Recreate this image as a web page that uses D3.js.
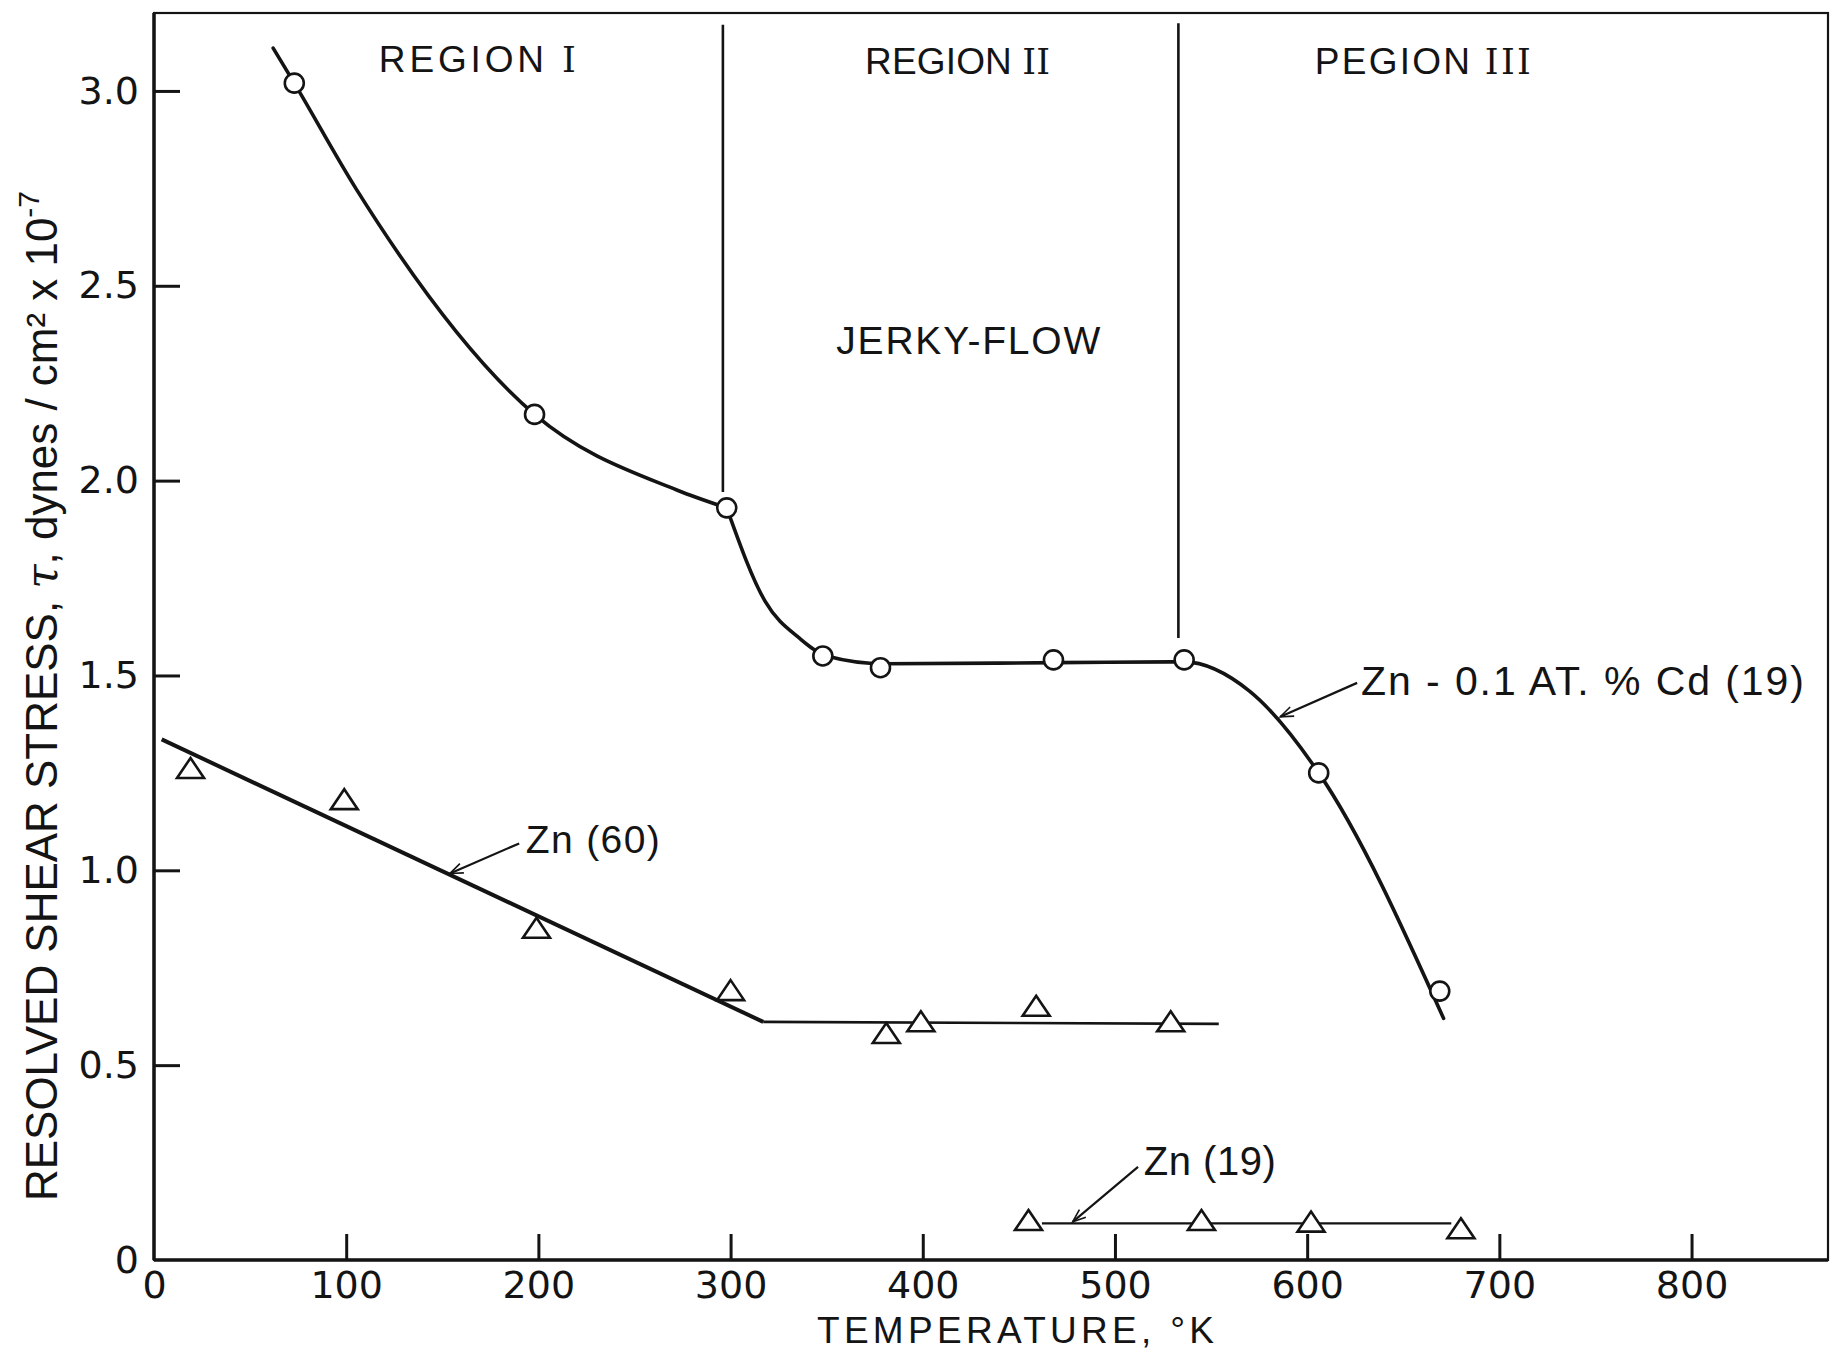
<!DOCTYPE html>
<html>
<head>
<meta charset="utf-8">
<script src="https://cdn.jsdelivr.net/npm/d3@7"></script>
<style>
body { margin: 0; background: #fff; }
svg { display: block; }
text { font-family: "Liberation Sans Narrow", "Liberation Sans", sans-serif; fill: #141414; }
.tick text { font-family: "DejaVu Sans", sans-serif; }
</style>
</head>
<body>
<div id="chart"></div>
<script>
// Zn-0.1 at.% Cd (19): measured points (circles)
const cdTemps = [73, 198, 298, 348, 378, 468, 536, 606, 669];
const cdStress = [3.02, 2.17, 1.93, 1.55, 1.52, 1.54, 1.54, 1.25, 0.69];
// hand-drawn fit, in two pieces that meet with a corner at ~298 K
const cdCurveLowTemps = [62, 73, 105, 198, 272, 298];
const cdCurveLowStress = [3.11, 3.02, 2.75, 2.17, 1.976, 1.93];
const cdCurveHighTemps = [298, 318, 336, 350, 380, 470, 536, 570, 606, 671];
const cdCurveHighStress = [1.93, 1.69, 1.595, 1.55, 1.53, 1.533, 1.535, 1.46, 1.25, 0.62];

// Zn (60): triangles + broken-line fit
const zn60Temps = [19, 99, 199, 300, 381, 399, 459, 529];
const zn60Stress = [1.26, 1.18, 0.85, 0.69, 0.58, 0.61, 0.65, 0.61];
const zn60LineTemps = [4, 317, 554];
const zn60LineStress = [1.336, 0.611, 0.606];

// Zn (19): triangles + flat line
const zn19Temps = [455, 545, 602, 680];
const zn19Stress = [0.10, 0.10, 0.096, 0.079];
const zn19LineTemps = [462, 675];
const zn19LineStress = [0.094, 0.094];

// region boundaries (temperature) and their vertical extent
const regionBounds = [296, 533];
const regionTops = [3.17, 3.174];
const regionBottoms = [1.971, 1.596];

const xTicks = [0, 100, 200, 300, 400, 500, 600, 700, 800];
const yTicks = [0, 0.5, 1.0, 1.5, 2.0, 2.5, 3.0];

const W = 1837, H = 1350;
const ink = "#141414";

const svg = d3.select("#chart").append("svg")
	.attr("width", W).attr("height", H)
	.style("background", "#fff");

const x = d3.scaleLinear().domain([0, 871]).range([154, 1828]);
const y = d3.scaleLinear().domain([0, 3.2]).range([1260, 13]);

// arrowhead used by the label leaders
svg.append("defs").append("marker")
	.attr("id", "arr")
	.attr("markerUnits", "userSpaceOnUse")
	.attr("markerWidth", 30).attr("markerHeight", 30)
	.attr("viewBox", "-15 -15 30 30")
	.attr("refX", 0).attr("refY", 0)
	.attr("orient", "auto")
	.append("path")
	.attr("d", "M-13,-5 L0,0 L-13,5")
	.attr("fill", "none")
	.attr("stroke", ink)
	.attr("stroke-width", 1.6);

// frame
svg.append("rect")
	.attr("x", x(0)).attr("y", y(3.2))
	.attr("width", x(871) - x(0)).attr("height", y(0) - y(3.2))
	.attr("fill", "none").attr("stroke", ink).attr("stroke-width", 2.2);
svg.append("line")
	.attr("x1", x(0)).attr("x2", x(0)).attr("y1", y(3.2)).attr("y2", y(0))
	.attr("stroke", ink).attr("stroke-width", 3.5);
svg.append("line")
	.attr("x1", x(0)).attr("x2", x(871)).attr("y1", y(0)).attr("y2", y(0))
	.attr("stroke", ink).attr("stroke-width", 3.5);

// axes, ticks pointing inward
const xAxis = d3.axisBottom(x).tickValues(xTicks)
	.tickFormat(d3.format("d"))
	.tickSizeInner(-26).tickSizeOuter(0).tickPadding(11);
const gx = svg.append("g").attr("transform", `translate(0,${y(0)})`).call(xAxis);

const yAxis = d3.axisLeft(y).tickValues(yTicks)
	.tickFormat(d => d === 0 ? "0" : d.toFixed(1))
	.tickSizeInner(-26).tickSizeOuter(0).tickPadding(15);
const gy = svg.append("g").attr("transform", `translate(${x(0)},0)`).call(yAxis);

[gx, gy].forEach(g => {
	g.select(".domain").remove();
	g.selectAll(".tick line").attr("stroke", ink).attr("stroke-width", 3);
	g.selectAll(".tick text").attr("fill", ink).style("font-size", "38px");
});
gx.selectAll(".tick").filter(d => d === 0).select("line").remove();
gy.selectAll(".tick").filter(d => d === 0).select("line").remove();

// region dividers
regionBounds.forEach((t, i) => {
	svg.append("line")
		.attr("x1", x(t)).attr("x2", x(t))
		.attr("y1", y(regionTops[i])).attr("y2", y(regionBottoms[i]))
		.attr("stroke", ink).attr("stroke-width", 2.6);
});

// curves
const smooth = d3.line().x(d => x(d[0])).y(d => y(d[1])).curve(d3.curveMonotoneX);
const straight = d3.line().x(d => x(d[0])).y(d => y(d[1]));

[[cdCurveLowTemps, cdCurveLowStress], [cdCurveHighTemps, cdCurveHighStress]].forEach(([t, s]) => {
	svg.append("path")
		.attr("d", smooth(d3.zip(t, s)))
		.attr("fill", "none").attr("stroke", ink).attr("stroke-width", 3.6)
		.attr("stroke-linecap", "round");
});

const zn60Line = d3.zip(zn60LineTemps, zn60LineStress);
svg.append("path")
	.attr("d", straight(zn60Line.slice(0, 2)))
	.attr("fill", "none").attr("stroke", ink).attr("stroke-width", 4);
svg.append("path")
	.attr("d", straight(zn60Line.slice(1)))
	.attr("fill", "none").attr("stroke", ink).attr("stroke-width", 2.6);

svg.append("path")
	.attr("d", straight(d3.zip(zn19LineTemps, zn19LineStress)))
	.attr("fill", "none").attr("stroke", ink).attr("stroke-width", 2.2);

// markers
svg.append("g").selectAll("circle")
	.data(d3.zip(cdTemps, cdStress))
	.join("circle")
	.attr("cx", d => x(d[0])).attr("cy", d => y(d[1]))
	.attr("r", 9.5)
	.attr("fill", "#fff").attr("stroke", ink).attr("stroke-width", 2.6);

const tri = "M0,-11 L13.5,9 L-13.5,9 Z";
svg.append("g").selectAll("path")
	.data(d3.zip(zn60Temps, zn60Stress).concat(d3.zip(zn19Temps, zn19Stress)))
	.join("path")
	.attr("transform", d => `translate(${x(d[0])},${y(d[1])})`)
	.attr("d", tri)
	.attr("fill", "#fff").attr("stroke", ink).attr("stroke-width", 2.6)
	.attr("stroke-linejoin", "miter");

// labels
function label(txt, t, s, size, len, numeral) {
	const el = svg.append("text")
		.attr("x", x(t)).attr("y", y(s))
		.attr("textLength", len).attr("lengthAdjust", "spacing")
		.style("font-size", size + "px");
	el.append("tspan").text(txt);
	if (numeral) {
		el.append("tspan")
			.style("font-family", "'DejaVu Serif', 'Liberation Serif', serif")
			.style("font-size", (size - 2) + "px")
			.text(numeral);
	}
	return el;
}
label("REGION  ", 117, 3.048, 37, 197, "I");
label("REGION  ", 370, 3.043, 37, 185, "II");
label("PEGION  ", 604, 3.043, 37, 216, "III");
label("JERKY-FLOW", 355, 2.325, 39, 264);
label("Zn - 0.1  AT. %  Cd  (19)", 628, 1.45, 41, 443);
label("Zn (60)", 193.4, 1.044, 39, 134);
label("Zn (19)", 515, 0.218, 40, 132);

// leaders
const leaders = [
	[[626, 1.481], [586, 1.394]],
	[[190, 1.069], [154, 0.992]],
	[[512, 0.239], [478, 0.098]]
];
leaders.forEach(l => {
	svg.append("path")
		.attr("d", straight(l))
		.attr("fill", "none").attr("stroke", ink).attr("stroke-width", 2.2)
		.attr("marker-end", "url(#arr)");
});

// axis titles
svg.append("text")
	.attr("x", 817).attr("y", 1343)
	.attr("textLength", 397).attr("lengthAdjust", "spacing")
	.style("font-size", "37px")
	.text("TEMPERATURE, \u00b0K");

const yt = svg.append("text")
	.attr("transform", "translate(57,1201) rotate(-90)")
	.attr("x", 0).attr("y", 0)
	.attr("textLength", 1010).attr("lengthAdjust", "spacing")
	.style("font-size", "44px");
yt.append("tspan").text("RESOLVED  SHEAR  STRESS,  ");
yt.append("tspan").style("font-style", "italic").style("font-family", "'DejaVu Serif', serif").text("\u03c4");
yt.append("tspan").text(",  dynes / cm\u00b2 x 10");
yt.append("tspan").attr("dy", -18).style("font-size", "30px").text("-7");
</script>
</body>
</html>
